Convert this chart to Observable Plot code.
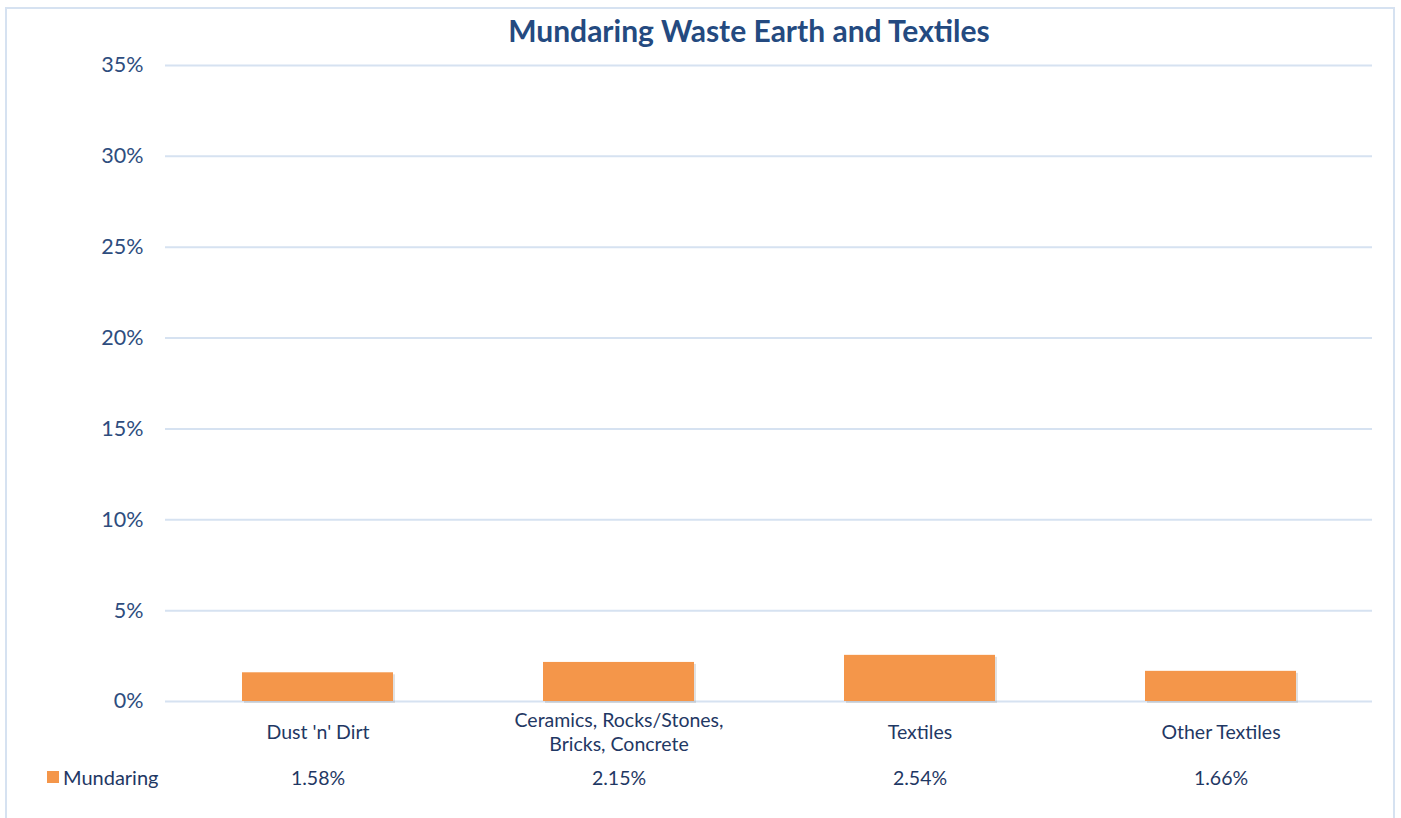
<!DOCTYPE html>
<html>
<head>
<meta charset="utf-8">
<script src="https://cdn.jsdelivr.net/npm/d3@7"></script>
<script src="https://cdn.jsdelivr.net/npm/@observablehq/plot@0.6"></script>
<style>
  html, body { margin: 0; padding: 0; background: #fff; }
  #wrap { position: relative; width: 1401px; height: 818px; overflow: hidden; font-family: Lato, "Open Sans", sans-serif; }
  #frame { position: absolute; left: 5px; top: 7px; width: 1390px; height: 830px; border: 2px solid #D6E2F1; box-sizing: border-box; }
  #title { position: absolute; top: 12px; left: 749px; transform: translateX(-50%); font-weight: 700; font-size: 30px; color: #244A80; white-space: nowrap; }
  #legend { position: absolute; left: 47px; top: 765px; font-size: 20px; color: #1F3864; display: flex; align-items: center; gap: 4px; }
  #legend span.sw { display: inline-block; width: 12px; height: 12px; background: #F4964A; }
  #chart { position: absolute; left: 0; top: 0; }
</style>
</head>
<body>
<div id="wrap">
  <div id="frame"></div>
  <div id="chart"></div>
  <div id="title">Mundaring Waste Earth and Textiles</div>
  <div id="legend"><span class="sw"></span><span id="seriesName"></span></div>
</div>
<script>
const categories = ["Dust 'n' Dirt", "Ceramics, Rocks/Stones,\nBricks, Concrete", "Textiles", "Other Textiles"];
const seriesName = "Mundaring";
const values = [0.0158, 0.0215, 0.0254, 0.0166];
const valueLabels = ["1.58%", "2.15%", "2.54%", "1.66%"];
const yTicks = [0, 0.05, 0.10, 0.15, 0.20, 0.25, 0.30, 0.35];

document.getElementById("seriesName").textContent = seriesName;

const data = categories.map((c, i) => ({cat: c, value: values[i], label: valueLabels[i]}));

const chart = Plot.plot({
  width: 1401,
  height: 818,
  marginLeft: 165,
  marginRight: 29,
  marginTop: 65,
  marginBottom: 117,
  style: {fontFamily: "Lato, 'Open Sans', sans-serif", background: "transparent"},
  x: {domain: categories, paddingInner: 0.5, paddingOuter: 0.25, axis: null},
  y: {domain: [0, 0.35], ticks: yTicks, label: null},
  marks: [
    Plot.gridY(yTicks, {stroke: "#D6E2F1", strokeOpacity: 1, strokeWidth: 2}),
    Plot.axisY(yTicks, {tickSize: 0, tickPadding: 22, tickFormat: d3.format(".0%"), fontSize: 21.5, fill: "#2E4D7E", label: null}),
    Plot.barY(data, {x: "cat", y: "value", fill: "#888", fillOpacity: 0.25, dx: 2, dy: 2}),
    Plot.barY(data, {x: "cat", y: "value", fill: "#F4964A"}),
    Plot.text(data, {x: "cat", text: "cat", frameAnchor: "bottom", dy: 30, lineAnchor: "middle", fontSize: 19.5, fill: "#1F3864", lineHeight: 1.25}),
    Plot.text(data, {x: "cat", text: "label", frameAnchor: "bottom", dy: 77, lineAnchor: "middle", fontSize: 19.5, fill: "#1F3864"})
  ]
});
document.getElementById("chart").appendChild(chart);
</script>
</body>
</html>
